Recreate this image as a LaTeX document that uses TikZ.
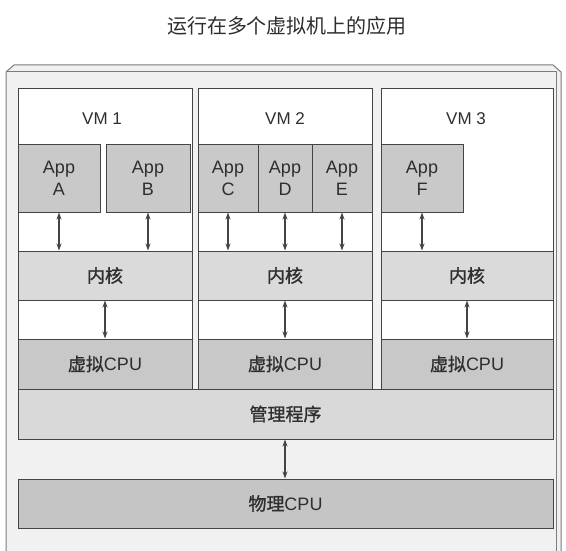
\documentclass[tikz,border=0pt]{standalone}
\usepackage{fontspec}
\setmainfont{Liberation Sans}
\newfontfamily\cjk{Noto Sans CJK SC}
\newfontfamily\cjkb[FakeBold=1.2]{Noto Sans CJK SC}
\usetikzlibrary{arrows.meta}
\definecolor{linegray}{HTML}{444444}
\definecolor{textgray}{HTML}{2E2E2E}
\definecolor{framegray}{HTML}{F1F1F1}
\definecolor{appgray}{HTML}{C9C9C9}
\definecolor{kerngray}{HTML}{DADADA}
\definecolor{cpugray}{HTML}{C8C8C8}
\definecolor{hypgray}{HTML}{D9D9D9}
\definecolor{physgray}{HTML}{C5C5C5}
\begin{document}
\begin{tikzpicture}[x=1pt,y=-1pt]
    \tikzstyle{layer} = [draw=linegray, shape=rectangle, line width=1pt, inner sep=0pt, text=textgray, font=\fontsize{18}{22}\selectfont]
    \tikzstyle{vm} = [layer, fill=white, minimum height=299pt]
    \tikzstyle{app} = [layer, fill=appgray, minimum height=67pt, align=center]
    \tikzstyle{kern} = [layer, fill=kerngray, minimum height=49pt]
    \tikzstyle{vcpu} = [layer, fill=cpugray, minimum height=50pt]
    \tikzstyle{link} = [draw=linegray, line width=1.3pt, {Stealth[length=7pt,width=5pt]}-{Stealth[length=7pt,width=5pt]}]

    \useasboundingbox (0,0) rectangle (566,551);
    \node [text=textgray, font=\cjk\fontsize{20}{24}\selectfont] at (287,26) (title) {运行在多个虚拟机上的应用};

    % host box
    \fill [framegray] (6,551) -- (6,72) -- (14,65) -- (553,65) -- (561,72) -- (561,551) -- cycle;
    \draw [linegray!70, line width=1pt] (6,551) -- (6,72) -- (14,65) -- (553,65) -- (561,72) -- (561,551);
    \draw [linegray!70, line width=1pt] (6,72) -- (556,72) -- (556,551);

    % virtual machines
    \node [vm, minimum width=174pt] at (105,238.5) (vm1) {};
    \node [vm, minimum width=174pt] at (285,238.5) (vm2) {};
    \node [vm, minimum width=172pt] at (467,238.5) (vm3) {};
    \node [text=textgray, font=\fontsize{17}{20}\selectfont] at (102,119) (lab1) {VM 1};
    \node [text=textgray, font=\fontsize{17}{20}\selectfont] at (285,119) (lab2) {VM 2};
    \node [text=textgray, font=\fontsize{17}{20}\selectfont] at (466,119) (lab3) {VM 3};

    \node [app, minimum width=82pt] at (59,178.5) (appA) {App\\A};
    \node [app, minimum width=84pt] at (148,178.5) (appB) {App\\B};
    \node [app, minimum width=60pt] at (228,178.5) (appC) {App\\C};
    \node [app, minimum width=54pt] at (285,178.5) (appD) {App\\D};
    \node [app, minimum width=60pt] at (342,178.5) (appE) {App\\E};
    \node [app, minimum width=82pt] at (422,178.5) (appF) {App\\F};

    \node [kern, minimum width=174pt] at (105,275.5) (kern1) {\cjkb 内核};
    \node [kern, minimum width=174pt] at (285,275.5) (kern2) {\cjkb 内核};
    \node [kern, minimum width=172pt] at (467,275.5) (kern3) {\cjkb 内核};

    \node [vcpu, minimum width=174pt] at (105,364) (vcpu1) {{\cjkb 虚拟}CPU};
    \node [vcpu, minimum width=174pt] at (285,364) (vcpu2) {{\cjkb 虚拟}CPU};
    \node [vcpu, minimum width=172pt] at (467,364) (vcpu3) {{\cjkb 虚拟}CPU};

    \node [layer, fill=hypgray, minimum width=535pt, minimum height=50pt] at (285.5,414) (hyper) {\cjkb 管理程序};
    \node [layer, fill=physgray, minimum width=535pt, minimum height=49pt] at (285.5,503.5) (phys) {{\cjkb 物理}CPU};

    \begin{scope}[link]
    \draw (appA.south) -- (appA.south |- kern1.north);
    \draw (appB.south) -- (appB.south |- kern1.north);
    \draw (appC.south) -- (appC.south |- kern2.north);
    \draw (appD.south) -- (appD.south |- kern2.north);
    \draw (appE.south) -- (appE.south |- kern2.north);
    \draw (appF.south) -- (appF.south |- kern3.north);
    \draw (kern1.south) -- (vcpu1.north);
    \draw (kern2.south) -- (vcpu2.north);
    \draw (kern3.south) -- (vcpu3.north);
    \draw (vm2.center |- hyper.south) -- (vm2.center |- phys.north);
    \end{scope}
\end{tikzpicture}
\end{document}
